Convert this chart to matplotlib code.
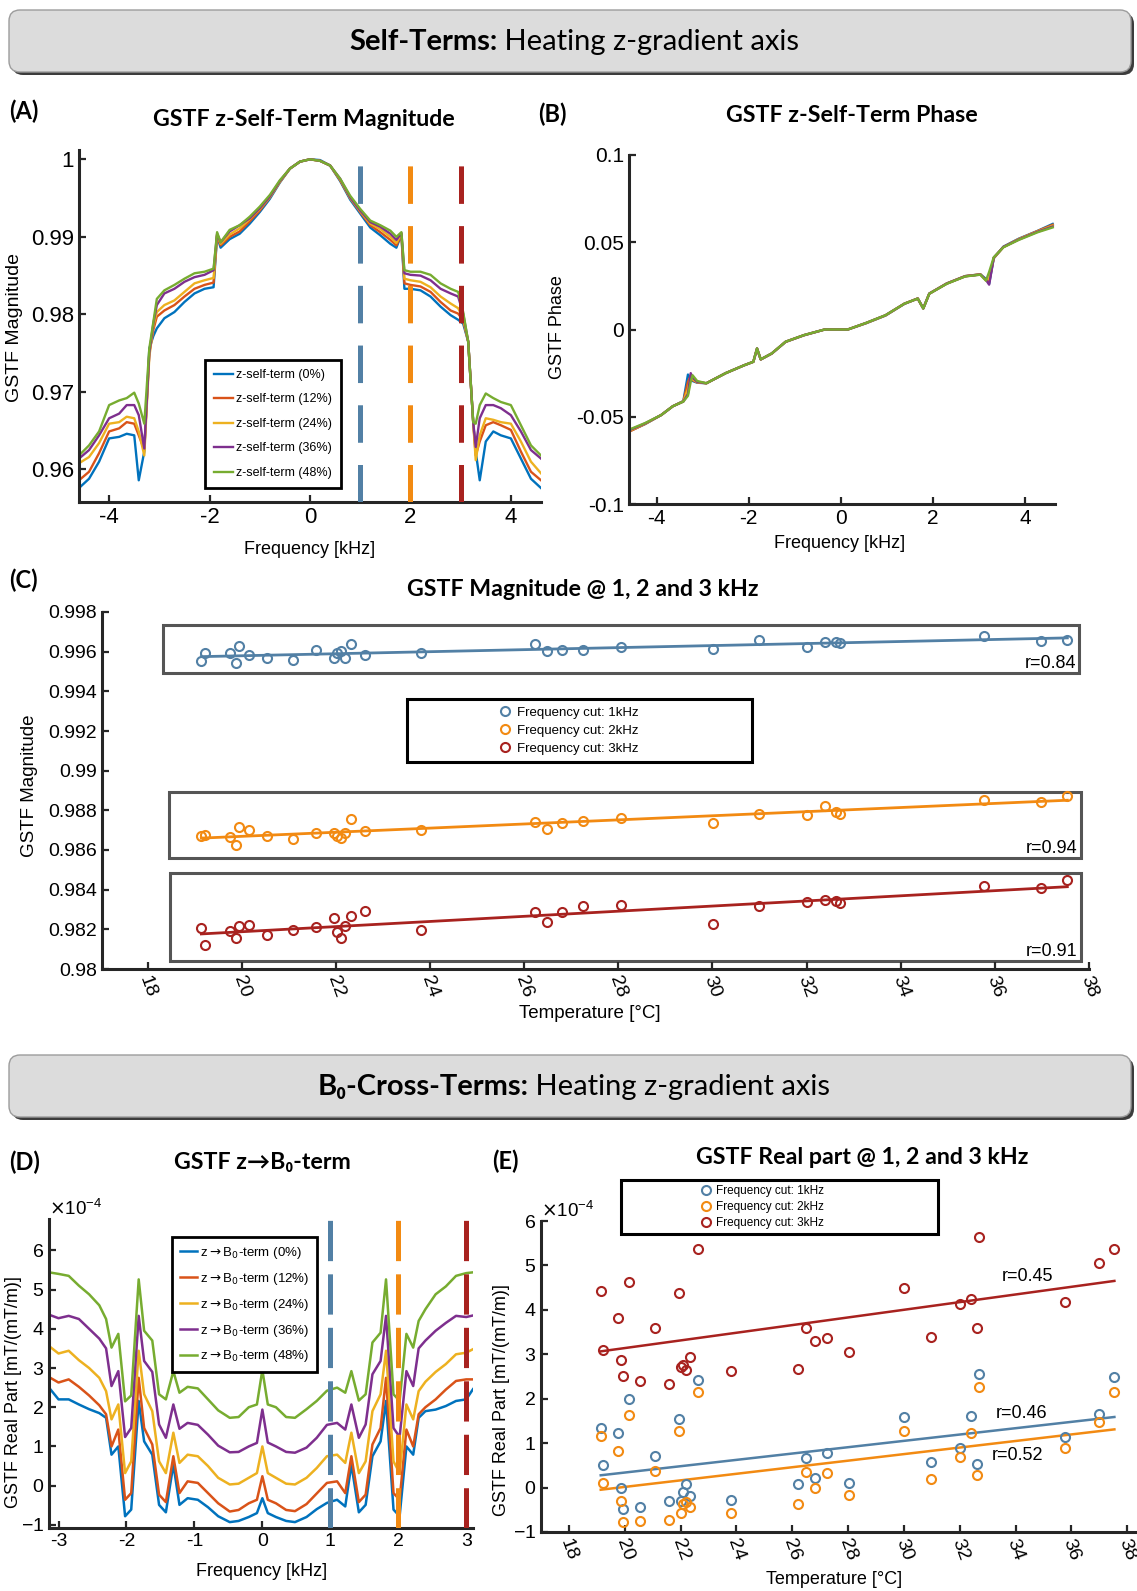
import numpy as np
import matplotlib
matplotlib.use("Agg")
import matplotlib.pyplot as plt
from matplotlib.patches import FancyBboxPatch, Rectangle
from matplotlib.ticker import FormatStrFormatter, ScalarFormatter

plt.rcParams['font.family'] = ['Liberation Sans', 'DejaVu Sans']
plt.rcParams['axes.unicode_minus'] = False
plt.rcParams['lines.scale_dashes'] = False

W, H = 1137, 1591
HEAD = ['Lato', 'DejaVu Sans']
NARROW = ['Liberation Sans Narrow', 'Liberation Sans', 'DejaVu Sans']

# ---- data ----
pct = ['0%', '12%', '24%', '36%', '48%']
cut_freqs = [1, 2, 3]
cut_names = ['Frequency cut: 1kHz', 'Frequency cut: 2kHz', 'Frequency cut: 3kHz']

# (A) magnitude, kHz
freq_a = [-4.6, -4.4, -4.2, -4.0, -3.8, -3.65, -3.5, -3.41, -3.3, -3.2,
          -3.12, -3.05, -2.9, -2.7, -2.5, -2.3, -2.1, -1.92, -1.85, -1.78,
          -1.6, -1.4, -1.2, -1.0, -0.8, -0.6, -0.4, -0.2,
          0.0,
          0.2, 0.4, 0.6, 0.8, 1.0, 1.2, 1.4, 1.6, 1.72, 1.82,
          1.88, 2.0, 2.2, 2.4, 2.6, 2.8, 2.95, 3.05, 3.15, 3.25,
          3.3, 3.38, 3.5, 3.65, 3.8, 4.0, 4.2, 4.4, 4.6]
mag_0 = [0.9576, 0.9588, 0.9610, 0.9640, 0.9642, 0.9646, 0.9644, 0.9586, 0.9623, 0.9756,
         0.9772, 0.9782, 0.9795, 0.9803, 0.9816, 0.9827, 0.9833, 0.9835, 0.9901, 0.9886,
         0.9897, 0.9904, 0.9917, 0.9932, 0.9949, 0.9970, 0.9988, 0.9997,
         1.0000,
         0.9999, 0.9992, 0.9972, 0.9948, 0.9930, 0.9912, 0.9902, 0.9891, 0.9886, 0.9903,
         0.9833, 0.9833, 0.9831, 0.9823, 0.9810, 0.9799, 0.9793, 0.9788, 0.9765, 0.9661,
         0.9623, 0.9586, 0.9636, 0.9649, 0.9644, 0.9640, 0.9614, 0.9588, 0.9576]
mag_12 = [0.9586, 0.9597, 0.9621, 0.9649, 0.9653, 0.9661, 0.9659, 0.9644, 0.9625, 0.9750,
          0.9780, 0.9797, 0.9805, 0.9812, 0.9823, 0.9833, 0.9838, 0.9841, 0.9902, 0.9889,
          0.9900, 0.9907, 0.9920, 0.9934, 0.9951, 0.9971, 0.9988, 0.9997,
          1.0000,
          0.9998, 0.9992, 0.9973, 0.9950, 0.9932, 0.9915, 0.9906, 0.9896, 0.9889, 0.9903,
          0.9840, 0.9838, 0.9836, 0.9829, 0.9816, 0.9805, 0.9801, 0.9792, 0.9765, 0.9661,
          0.9618, 0.9636, 0.9657, 0.9661, 0.9657, 0.9651, 0.9623, 0.9597, 0.9586]
mag_24 = [0.9608, 0.9616, 0.9634, 0.9659, 0.9661, 0.9668, 0.9666, 0.9649, 0.9618, 0.9745,
          0.9785, 0.9803, 0.9812, 0.9818, 0.9829, 0.9840, 0.9844, 0.9847, 0.9903, 0.9891,
          0.9903, 0.9911, 0.9923, 0.9936, 0.9951, 0.9971, 0.9988, 0.9997,
          1.0000,
          0.9998, 0.9992, 0.9974, 0.9950, 0.9933, 0.9917, 0.9910, 0.9900, 0.9892, 0.9904,
          0.9846, 0.9844, 0.9842, 0.9835, 0.9823, 0.9814, 0.9808, 0.9795, 0.9765, 0.9661,
          0.9612, 0.9644, 0.9666, 0.9664, 0.9661, 0.9659, 0.9636, 0.9610, 0.9595]
mag_36 = [0.9614, 0.9625, 0.9644, 0.9666, 0.9672, 0.9683, 0.9683, 0.9670, 0.9627, 0.9750,
          0.9788, 0.9812, 0.9827, 0.9833, 0.9842, 0.9848, 0.9851, 0.9857, 0.9904, 0.9893,
          0.9907, 0.9915, 0.9924, 0.9937, 0.9952, 0.9972, 0.9988, 0.9997,
          1.0000,
          0.9998, 0.9992, 0.9975, 0.9951, 0.9934, 0.9919, 0.9913, 0.9904, 0.9896, 0.9905,
          0.9853, 0.9851, 0.9850, 0.9844, 0.9833, 0.9827, 0.9823, 0.9801, 0.9765, 0.9661,
          0.9629, 0.9666, 0.9683, 0.9683, 0.9679, 0.9670, 0.9649, 0.9625, 0.9614]
mag_48 = [0.9618, 0.9631, 0.9649, 0.9683, 0.9689, 0.9692, 0.9699, 0.9685, 0.9659, 0.9756,
          0.9790, 0.9820, 0.9831, 0.9838, 0.9846, 0.9853, 0.9855, 0.9859, 0.9906, 0.9893,
          0.9909, 0.9915, 0.9926, 0.9939, 0.9954, 0.9973, 0.9988, 0.9997,
          1.0000,
          0.9998, 0.9992, 0.9975, 0.9953, 0.9936, 0.9921, 0.9915, 0.9908, 0.9900, 0.9906,
          0.9857, 0.9855, 0.9855, 0.9851, 0.9840, 0.9833, 0.9829, 0.9803, 0.9765, 0.9661,
          0.9659, 0.9683, 0.9698, 0.9692, 0.9687, 0.9683, 0.9657, 0.9631, 0.9618]

# (B) phase
freq_b = [-4.6, -4.25, -3.9, -3.65, -3.42, -3.32, -3.26, -3.22, -3.12, -2.92,
          -2.5, -2.1, -1.9, -1.82, -1.74, -1.5, -1.2, -0.8, -0.35, 0.15,
          0.55, 0.97, 1.38, 1.67, 1.79, 1.92, 2.3, 2.7, 3.03, 3.15,
          3.22, 3.32, 3.53, 3.86, 4.27, 4.6]
ph_0 = [-0.0584, -0.0542, -0.0490, -0.0440, -0.0410, -0.0258, -0.0285, -0.0295, -0.0305, -0.0308,
        -0.0250, -0.0205, -0.0185, -0.0110, -0.0172, -0.0138, -0.0071, -0.0033, 0.0, 0.0,
        0.0036, 0.0080, 0.0147, 0.0178, 0.0122, 0.0206, 0.0264, 0.0306, 0.0316, 0.0290,
        0.0262, 0.0408, 0.0475, 0.0520, 0.0565, 0.0605]
ph_12 = [-0.0586, -0.0541, -0.0490, -0.0440, -0.0411, -0.0300, -0.0265, -0.0290, -0.0303, -0.0308,
         -0.0250, -0.0205, -0.0185, -0.0110, -0.0172, -0.0138, -0.0071, -0.0033, 0.0, 0.0,
         0.0037, 0.0081, 0.0148, 0.0178, 0.0121, 0.0206, 0.0264, 0.0306, 0.0316, 0.0282,
         0.0275, 0.0410, 0.0473, 0.0518, 0.0564, 0.0600]
ph_24 = [-0.0582, -0.0540, -0.0490, -0.0440, -0.0412, -0.0340, -0.0270, -0.0285, -0.0302, -0.0308,
         -0.0250, -0.0205, -0.0185, -0.0109, -0.0171, -0.0137, -0.0070, -0.0032, 0.0, 0.0,
         0.0037, 0.0081, 0.0148, 0.0177, 0.0121, 0.0205, 0.0263, 0.0305, 0.0316, 0.0283,
         0.0290, 0.0410, 0.0472, 0.0517, 0.0562, 0.0595]
ph_36 = [-0.0578, -0.0538, -0.0490, -0.0440, -0.0413, -0.0370, -0.0250, -0.0275, -0.0300, -0.0308,
         -0.0250, -0.0205, -0.0185, -0.0108, -0.0171, -0.0137, -0.0070, -0.0032, 0.0, 0.0,
         0.0038, 0.0082, 0.0148, 0.0177, 0.0120, 0.0205, 0.0263, 0.0305, 0.0315, 0.0285,
         0.0257, 0.0412, 0.0473, 0.0515, 0.0560, 0.0590]
ph_48 = [-0.0574, -0.0536, -0.0490, -0.0440, -0.0413, -0.0380, -0.0300, -0.0262, -0.0295, -0.0308,
         -0.0250, -0.0205, -0.0185, -0.0108, -0.0171, -0.0137, -0.0070, -0.0032, 0.0, 0.0,
         0.0038, 0.0082, 0.0148, 0.0177, 0.0120, 0.0205, 0.0262, 0.0304, 0.0314, 0.0280,
         0.0330, 0.0414, 0.0471, 0.0513, 0.0557, 0.0585]

# (C)/(E) temperatures, degC
temp = [19.14, 19.22, 19.75, 19.87, 19.95, 20.16, 20.53, 21.09, 21.57, 21.96,
        22.03, 22.10, 22.20, 22.33, 22.62, 23.80, 26.22, 26.49, 26.81, 27.26,
        28.05, 30.02, 30.98, 32.00, 32.39, 32.62, 32.70, 35.77, 36.98, 37.54]
mag_1k = [0.99552, 0.99594, 0.99591, 0.99544, 0.99631, 0.99581, 0.99566, 0.99557, 0.99606, 0.99566,
          0.99591, 0.99601, 0.99567, 0.99638, 0.99581, 0.99591, 0.99638, 0.99601, 0.99606, 0.99608,
          0.99626, 0.99614, 0.99661, 0.99626, 0.99648, 0.99651, 0.99644, 0.99681, 0.99653, 0.99661]
mag_2k = [0.98670, 0.98675, 0.98667, 0.98627, 0.98714, 0.98702, 0.98670, 0.98657, 0.98684, 0.98687,
          0.98670, 0.98660, 0.98687, 0.98754, 0.98694, 0.98700, 0.98742, 0.98707, 0.98734, 0.98746,
          0.98761, 0.98734, 0.98784, 0.98776, 0.98821, 0.98794, 0.98784, 0.98854, 0.98844, 0.98874]
mag_3k = [0.98205, 0.98123, 0.98193, 0.98155, 0.98218, 0.98222, 0.98172, 0.98198, 0.98212, 0.98259,
          0.98185, 0.98158, 0.98215, 0.98265, 0.98290, 0.98197, 0.98285, 0.98237, 0.98285, 0.98319,
          0.98321, 0.98228, 0.98316, 0.98339, 0.98349, 0.98341, 0.98331, 0.98416, 0.98409, 0.98449]
r_mag = ['r=0.84', 'r=0.94', 'r=0.91']

# (D) real part, units of 1e-4 mT/(mT/m)
freq_d = [-3.14, -3.0, -2.85, -2.7, -2.55, -2.4, -2.3, -2.22, -2.12, -2.02,
          -1.93, -1.82, -1.74, -1.62, -1.52, -1.42, -1.31, -1.22, -1.1, -0.95,
          -0.8, -0.65, -0.48, -0.35, -0.2, -0.08,
          0.0,
          0.08, 0.2, 0.35, 0.48, 0.65, 0.8,
          0.95, 1.1, 1.22, 1.31, 1.42, 1.52, 1.62,
          1.74, 1.82, 1.93, 2.02, 2.12, 2.22, 2.3, 2.4, 2.55, 2.7,
          2.85, 3.0, 3.1]
re_0 = [2.5, 2.2, 2.2, 2.07, 1.95, 1.85, 1.73, 0.79, 1.0, -0.78,
        -0.61, 2.16, 1.13, 0.79, -0.49, -0.68, 0.54, -0.49, -0.32, -0.36,
        -0.55, -0.78, -0.93, -0.9, -0.8, -0.7,
        -0.32,
        -0.7, -0.8, -0.9, -0.93, -0.8, -0.6,
        -0.44, -0.36, -0.53, 0.54, -0.68, -0.49, 0.75,
        1.13, 2.16, -0.61, -0.78, 1.0, 0.79, 1.73, 1.9, 1.94, 2.03,
        2.16, 2.2, 2.46]
re_12 = [2.77, 2.63, 2.71, 2.52, 2.3, 2.05, 1.82, 1.0, 1.43, -0.36,
         -0.19, 2.75, 1.47, 1.05, -0.23, -0.42, 0.75, -0.19, 0.11, 0.07,
         -0.19, -0.45, -0.66, -0.62, -0.45, -0.36,
         0.24,
         -0.36, -0.45, -0.62, -0.65, -0.47, -0.2,
         0.07, 0.11, -0.19, 0.75, -0.42, -0.23, 1.05,
         1.47, 2.75, -0.19, -0.36, 1.43, 1.0, 1.82, 2.0, 2.2, 2.45,
         2.67, 2.71, 2.71]
re_24 = [3.56, 3.37, 3.44, 3.2, 3.0, 2.75, 2.41, 1.69, 2.07, 0.32,
         0.62, 3.44, 2.33, 1.9, 0.62, 0.32, 1.35, 0.58, 0.79, 0.75,
         0.5, 0.2, 0.03, 0.05, 0.2, 0.32,
         1.0,
         0.32, 0.2, 0.05, 0.03, 0.2, 0.45,
         0.75, 0.79, 0.58, 1.35, 0.32, 0.62, 1.9,
         2.33, 3.44, 0.62, 0.32, 2.07, 1.69, 2.41, 2.65, 2.9, 3.1,
         3.35, 3.39, 3.48]
re_36 = [4.36, 4.27, 4.33, 4.25, 4.0, 3.75, 3.5, 2.54, 2.92, 1.24,
         1.47, 4.33, 3.18, 2.9, 1.56, 1.22, 2.07, 1.45, 1.6, 1.55,
         1.3, 1.02, 0.85, 0.86, 1.0, 1.09,
         1.94,
         1.1, 1.0, 0.86, 0.84, 0.97, 1.22,
         1.55, 1.6, 1.43, 2.07, 1.22, 1.56, 2.84,
         3.18, 4.33, 1.47, 1.24, 2.92, 2.54, 3.5, 3.7, 3.95, 4.15,
         4.33, 4.3, 4.34]
re_48 = [5.44, 5.40, 5.35, 5.1, 4.88, 4.6, 4.25, 3.52, 3.87, 2.15,
         2.3, 5.26, 3.95, 3.7, 2.33, 2.2, 2.92, 2.37, 2.52, 2.48,
         2.2, 1.92, 1.73, 1.75, 2.0, 2.07,
         2.95,
         2.07, 2.0, 1.75, 1.73, 1.95, 2.16,
         2.42, 2.5, 2.37, 2.92, 2.17, 2.33, 3.65,
         3.9, 5.26, 2.33, 2.16, 3.87, 3.52, 4.2, 4.5, 4.88, 5.08,
         5.35, 5.42, 5.44]

# (E) real part at the cut frequencies, units of 1e-4
re_1k = [1.33, 0.50, 1.23, 0.0, -0.49, 2.0, -0.43, 0.72, -0.31, 1.54,
         -0.31, -0.10, 0.09, -0.20, 2.43, -0.28, 0.07, 0.66, 0.21, 0.78,
         0.11, 1.59, 0.57, 0.89, 1.61, 0.53, 2.55, 1.13, 1.65, 2.49]
re_2k = [1.17, 0.10, 0.82, -0.31, -0.78, 1.64, -0.75, 0.38, -0.72, 1.27,
         -0.57, -0.38, -0.32, -0.43, 2.16, -0.57, -0.36, 0.36, 0.0, 0.33,
         -0.17, 1.28, 0.20, 0.68, 1.22, 0.29, 2.26, 0.88, 1.48, 2.14]
re_3k = [4.43, 3.10, 3.81, 2.88, 2.51, 4.62, 2.40, 3.60, 2.34, 4.37,
         2.71, 2.77, 2.64, 2.95, 5.38, 2.63, 2.67, 3.59, 3.29, 3.36,
         3.05, 4.50, 3.38, 4.14, 4.24, 3.60, 5.63, 4.18, 5.05, 5.38]
r_re = ['r=0.46', 'r=0.52', 'r=0.45']

# ---- styles ----
line_colors = ['#0072BD', '#D95319', '#EDB120', '#7E2F8E', '#77AC30']
cut_colors = ['#5280A5', '#F28A12', '#A8221F']
INK = '#262626'

fig = plt.figure(figsize=(W / 100, H / 100), dpi=100)
fig.patch.set_facecolor('white')
bg = fig.add_axes([0, 0, 1, 1], zorder=-1)
bg.set_xlim(0, W)
bg.set_ylim(H, 0)
bg.axis('off')


def box(x0, y0, x1, y1):
    ax = fig.add_axes([x0 / W, 1 - y1 / H, (x1 - x0) / W, (y1 - y0) / H])
    ax.set_facecolor('none')
    for s in ['top', 'right']:
        ax.spines[s].set_visible(False)
    for s in ['left', 'bottom']:
        ax.spines[s].set_linewidth(2.2)
        ax.spines[s].set_color(INK)
    ax.tick_params(direction='in', length=5, width=1.6, color=INK)
    return ax


def labels(ax, xl, yl, xpos, ypos, fs, yfs=None, family=None):
    # positions of the axis labels given in figure pixels
    ax.set_xlabel(xl, fontsize=fs, family=family)
    ax.set_ylabel(yl, fontsize=yfs or fs, family=family)
    inv = ax.transAxes.inverted()
    ax.xaxis.set_label_coords(*inv.transform((xpos[0], H - xpos[1])))
    ax.yaxis.set_label_coords(*inv.transform((ypos[0], H - ypos[1])))
    ax.xaxis.label.set_va('center')
    ax.yaxis.label.set_va('center')


def banner(y0, y1, bold, rest):
    bg.add_patch(FancyBboxPatch((12, y0 + 3), 1122, y1 - y0,
                                boxstyle='round,pad=0,rounding_size=11',
                                fc='#3c3c3c', ec='none'))
    bg.add_patch(FancyBboxPatch((9, y0), 1122, y1 - y0,
                                boxstyle='round,pad=0,rounding_size=11',
                                fc='#dcdcdc', ec='#9c9c9c', lw=1))
    yc = (y0 + y1) / 2 + 1
    t1 = bg.text(0, yc, bold, fontsize=21, fontweight='bold', family=HEAD, va='center')
    t2 = bg.text(0, yc, rest, fontsize=21, family=HEAD, va='center')
    r = fig.canvas.get_renderer()
    w1 = t1.get_window_extent(r).width
    w2 = t2.get_window_extent(r).width
    xs = 574 - (w1 + w2) / 2
    t1.set_x(xs)
    t2.set_x(xs + w1)


def heading(x, y, s, ha='center', size=16.7):
    bg.text(x, y, s, fontsize=size, fontweight='bold', family=HEAD, ha=ha, va='center')


banner(10, 72, 'Self-Terms:', ' Heating z-gradient axis')
banner(1055, 1117, 'B\u2080-Cross-Terms:', ' Heating z-gradient axis')

heading(9, 111, '(A)', ha='left', size=17)
heading(304, 119, 'GSTF z-Self-Term Magnitude')
heading(538, 114, '(B)', ha='left', size=17)
heading(852, 115, 'GSTF z-Self-Term Phase')
heading(9, 580, '(C)', ha='left', size=17)
heading(583, 589, 'GSTF Magnitude @ 1, 2 and 3 kHz')
heading(9, 1162, '(D)', ha='left', size=17)
heading(262, 1163, 'GSTF z\u2192B\u2080-term')
heading(492, 1161, '(E)', ha='left', size=17)
heading(862, 1158, 'GSTF Real part @ 1, 2 and 3 kHz')

# ---- (A) ----
ax = box(79, 150, 541, 502)
for vals, c, p in zip([mag_0, mag_12, mag_24, mag_36, mag_48], line_colors, pct):
    ax.plot(freq_a, vals, color=c, lw=1.7, label=f'z-self-term ({p})')
for f, c in zip(cut_freqs, cut_colors):
    ax.axvline(f, color=c, lw=3.6, dashes=(27, 16), zorder=3)
ax.set_xlim(-4.6, 4.6)
ax.set_ylim(0.9558, 1.0012)
ax.set_xticks([-4, -2, 0, 2, 4])
ax.set_yticks([0.96, 0.97, 0.98, 0.99, 1.0])
ax.yaxis.set_major_formatter(FormatStrFormatter('%g'))
ax.tick_params(labelsize=16)
leg = ax.legend(loc='upper left', bbox_to_anchor=(0.273, 0.403), fontsize=9,
                fancybox=False, edgecolor='black', framealpha=1,
                handlelength=1.5, handletextpad=0.3, labelspacing=1.0,
                borderpad=0.7, borderaxespad=0)
leg.get_frame().set_linewidth(2)
labels(ax, 'Frequency [kHz]', 'GSTF Magnitude', (310, 549), (15, 327), 13, 14)

# ---- (B) ----
ax = box(629, 155, 1055, 504)
for vals, c in zip([ph_0, ph_12, ph_24, ph_36, ph_48], line_colors):
    ax.plot(freq_b, vals, color=c, lw=1.7)
ax.set_xlim(-4.6, 4.65)
ax.set_ylim(-0.1, 0.1)
ax.set_xticks([-4, -2, 0, 2, 4])
ax.set_yticks([-0.1, -0.05, 0, 0.05, 0.1])
ax.yaxis.set_major_formatter(FormatStrFormatter('%g'))
ax.tick_params(labelsize=15)
labels(ax, 'Frequency [kHz]', 'GSTF Phase', (840, 544), (558, 327), 13)

# ---- (C) ----
ax = box(102, 612, 1089, 969)
for vals, c, name in zip([mag_1k, mag_2k, mag_3k], cut_colors, cut_names):
    ax.plot(temp, vals, 'o', mfc='none', mec=c, mew=1.5, ms=6.5, label=name, zorder=4)
    k, b = np.polyfit(temp, vals, 1)
    tt = np.array([min(temp), max(temp)])
    ax.plot(tt, k * tt + b, color=c, lw=2, zorder=3)
group_boxes = [(18.32, 0.99492, 37.79, 0.99734),
               (18.46, 0.98560, 37.83, 0.98892),
               (18.48, 0.98040, 37.83, 0.98484)]
for (x0, y0, x1, y1), rtxt in zip(group_boxes, r_mag):
    ax.add_patch(Rectangle((x0, y0), x1 - x0, y1 - y0, fill=False, ec='#555555', lw=2.2))
    ax.text(x1 - 0.07, y0 + 0.00006, rtxt, ha='right', va='bottom', fontsize=13, family=NARROW)
ax.add_patch(Rectangle((23.5, 0.99044), 30.85 - 23.5, 0.99360 - 0.99044,
                       fill=False, ec='black', lw=2.2))
ax.legend(loc='center', bbox_to_anchor=(26.95, 0.99202), bbox_transform=ax.transData,
          frameon=False, prop={'family': NARROW, 'size': 9.5},
          handlelength=1.0, handletextpad=0.4, labelspacing=0.45)
ax.set_xlim(17.03, 38.0)
ax.set_ylim(0.98, 0.998)
ax.set_xticks(np.arange(18, 39, 2))
ax.set_yticks(np.arange(0.98, 0.9981, 0.002))
ax.yaxis.set_major_formatter(FormatStrFormatter('%g'))
ax.tick_params(labelsize=14)
ax.tick_params(axis='x', labelrotation=-70)
for t in ax.get_xticklabels() + ax.get_yticklabels():
    t.set_family(NARROW)
labels(ax, 'Temperature [\u00b0C]', 'GSTF Magnitude', (590, 1014), (30, 786), 13.5, family=NARROW)

# ---- (D) ----
ax = box(49, 1219, 473, 1528)
for vals, c, p in zip([re_0, re_12, re_24, re_36, re_48], line_colors, pct):
    ax.plot(freq_d, np.array(vals) * 1e-4, color=c, lw=1.8,
            label=f'z$\\rightarrow$B$_0$-term ({p})')
for f, c in zip(cut_freqs, cut_colors):
    ax.axvline(f, color=c, lw=3.6, dashes=(29, 9.5), zorder=3)
ax.set_xlim(-3.14, 3.1)
ax.set_ylim(-1.08e-4, 6.8e-4)
ax.set_xticks([-3, -2, -1, 0, 1, 2, 3])
ax.set_yticks(np.arange(-1, 7) * 1e-4)
fmt = ScalarFormatter(useMathText=True)
fmt.set_powerlimits((-4, -4))
ax.yaxis.set_major_formatter(fmt)
ax.yaxis.get_offset_text().set_fontsize(13.5)
ax.tick_params(labelsize=14)
leg = ax.legend(loc='upper left', bbox_to_anchor=(0.29, 0.942), fontsize=9.5,
                fancybox=False, edgecolor='black', framealpha=1,
                handlelength=1.3, handletextpad=0.2, labelspacing=0.75,
                borderpad=0.6, borderaxespad=0)
leg.get_frame().set_linewidth(2)
labels(ax, 'Frequency [kHz]', 'GSTF Real Part [mT/(mT/m)]', (262, 1572), (14, 1392), 13)

# ---- (E) ----
ax = box(541, 1221, 1137, 1532)
for vals, c, name in zip([re_1k, re_2k, re_3k], cut_colors, cut_names):
    v = np.array(vals) * 1e-4
    ax.plot(temp, v, 'o', mfc='none', mec=c, mew=1.5, ms=6.5, label=name, zorder=4)
    k, b = np.polyfit(temp, v, 1)
    tt = np.array([min(temp), max(temp)])
    ax.plot(tt, k * tt + b, color=c, lw=1.8, zorder=3)
for (x, y), rtxt in zip([(34.2, 1.66), (34.07, 0.72), (34.44, 4.76)], r_re):
    ax.text(x, y * 1e-4, rtxt, ha='center', va='center', fontsize=13)
bg.add_patch(Rectangle((621, 1180), 317, 54, fill=False, ec='black', lw=2.2))
ax.legend(loc='center', bbox_to_anchor=(762 / W, 1 - 1207 / H), bbox_transform=fig.transFigure,
          frameon=False, fontsize=8.5, handlelength=1.0, handletextpad=0.4, labelspacing=0.35)
ax.set_xlim(17, 38.35)
ax.set_ylim(-1e-4, 6e-4)
ax.set_xticks(np.arange(18, 39, 2))
ax.set_yticks(np.arange(-1, 7) * 1e-4)
fmt = ScalarFormatter(useMathText=True)
fmt.set_powerlimits((-4, -4))
ax.yaxis.set_major_formatter(fmt)
ax.yaxis.get_offset_text().set_fontsize(13.5)
ax.tick_params(labelsize=14)
ax.tick_params(axis='x', labelrotation=-70)
labels(ax, 'Temperature [\u00b0C]', 'GSTF Real Part [mT/(mT/m)]', (834, 1579), (502, 1400), 13)

fig.savefig('out.png', dpi=100)
